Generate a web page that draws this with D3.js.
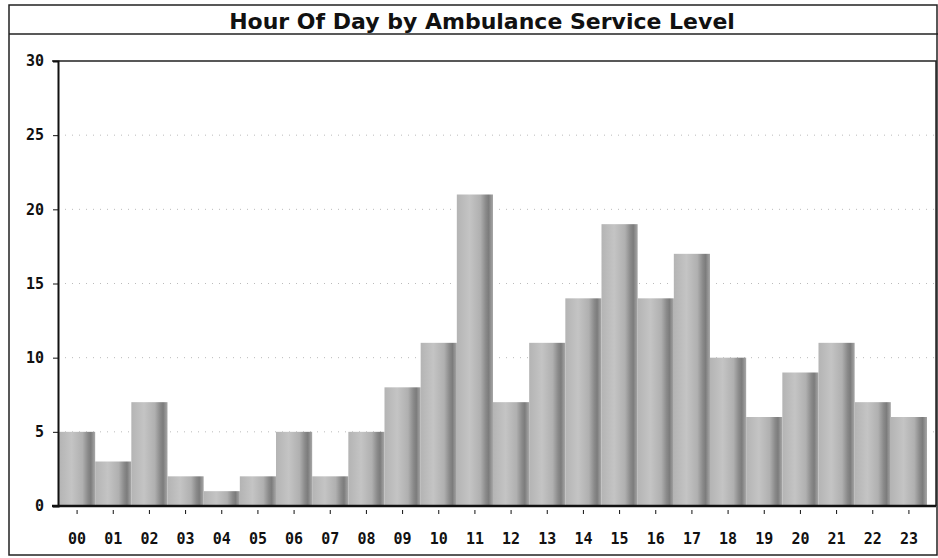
<!DOCTYPE html>
<html>
<head>
<meta charset="utf-8">
<script src="https://cdn.jsdelivr.net/npm/d3@7"></script>
<style>
  body { margin: 0; background: #fff; }
  svg { display: block; }
</style>
</head>
<body>
<div id="chart"></div>
<script>
// Chart data
const hours = ["00","01","02","03","04","05","06","07","08","09","10","11",
               "12","13","14","15","16","17","18","19","20","21","22","23"];
const counts = [5, 3, 7, 2, 1, 2, 5, 2, 5, 8, 11, 21, 7, 11, 14, 19, 14, 17, 10, 6, 9, 11, 7, 6];
const yTicks = [0, 5, 10, 15, 20, 25, 30];
const chartTitle = "Hour Of Day by Ambulance Service Level";

const width = 938, height = 558;
const margin = { top: 61, right: 2, bottom: 52, left: 58 };

const svg = d3.select("#chart").append("svg")
  .attr("width", width)
  .attr("height", height);

// Bar shading, light body with a dark band toward the right edge
const defs = svg.append("defs");
const grad = defs.append("linearGradient")
  .attr("id", "barShade")
  .attr("x1", "0%").attr("x2", "100%").attr("y1", "0%").attr("y2", "0%");
[
  [0, "#b4b4b4"], [0.35, "#c4c4c4"], [0.65, "#b0b0b0"],
  [0.8, "#8a8a8a"], [0.88, "#7c7c7c"], [1, "#a8a8a8"]
].forEach(([o, c]) => grad.append("stop").attr("offset", o).attr("stop-color", c));

// Outer frame and title band
svg.append("rect")
  .attr("x", 9).attr("y", 5)
  .attr("width", width - 10).attr("height", 550)
  .attr("fill", "none").attr("stroke", "#222").attr("stroke-width", 1.5);

svg.append("line")
  .attr("x1", 9).attr("x2", width)
  .attr("y1", 34).attr("y2", 34)
  .attr("stroke", "#222").attr("stroke-width", 1.5);

svg.append("text")
  .attr("x", 482).attr("y", 29)
  .attr("text-anchor", "middle")
  .attr("font-family", "DejaVu Sans, Verdana, sans-serif")
  .attr("font-weight", "bold")
  .attr("font-size", "22px")
  .attr("fill", "#111")
  .text(chartTitle);

// Scales
const plotRight = 936;
const x = d3.scaleBand()
  .domain(hours)
  .range([margin.left + 1, 927])
  .paddingInner(0)
  .paddingOuter(0);

const y = d3.scaleLinear()
  .domain([0, 30])
  .range([height - margin.bottom, margin.top]);

// Dotted gridlines
svg.append("g")
  .selectAll("line")
  .data(yTicks.filter(t => t > 0 && t < 30))
  .join("line")
  .attr("x1", margin.left).attr("x2", plotRight)
  .attr("y1", d => y(d)).attr("y2", d => y(d))
  .attr("stroke", "#bbb")
  .attr("stroke-width", 1)
  .attr("stroke-dasharray", "1,6");

// Bars
svg.append("g")
  .selectAll("rect")
  .data(counts)
  .join("rect")
  .attr("x", (d, i) => x(hours[i]))
  .attr("y", d => y(d))
  .attr("width", x.bandwidth())
  .attr("height", d => y(0) - y(d))
  .attr("fill", "url(#barShade)");

// Plot frame (top and right)
svg.append("path")
  .attr("d", `M${margin.left - 6},${y(30)}H${plotRight}V${y(0)}`)
  .attr("fill", "none")
  .attr("stroke", "#222")
  .attr("stroke-width", 1.5);

// Y axis
const yAxis = svg.append("g")
  .attr("transform", `translate(${margin.left},0)`)
  .call(d3.axisLeft(y).tickValues(yTicks).tickSize(5).tickPadding(9));
yAxis.select(".domain").attr("stroke", "#111").attr("stroke-width", 2);
yAxis.selectAll(".tick line").attr("stroke", "#111");
yAxis.selectAll(".tick text")
  .attr("font-family", "DejaVu Sans Mono, monospace")
  .attr("font-weight", "bold")
  .attr("font-size", "15px")
  .attr("fill", "#111");

// X axis
const xAxis = svg.append("g")
  .attr("transform", `translate(0,${y(0)})`)
  .call(d3.axisBottom(x).tickSize(5).tickPadding(22));
xAxis.select(".domain")
  .attr("d", `M${margin.left - 6},0H${plotRight}`)
  .attr("stroke", "#111").attr("stroke-width", 2.5);
xAxis.selectAll(".tick line").attr("stroke", "#111").attr("transform", "translate(0,4)").attr("y2", 4);
xAxis.selectAll(".tick text")
  .attr("font-family", "DejaVu Sans Mono, monospace")
  .attr("font-weight", "bold")
  .attr("font-size", "15px")
  .attr("fill", "#111");
</script>
</body>
</html>
